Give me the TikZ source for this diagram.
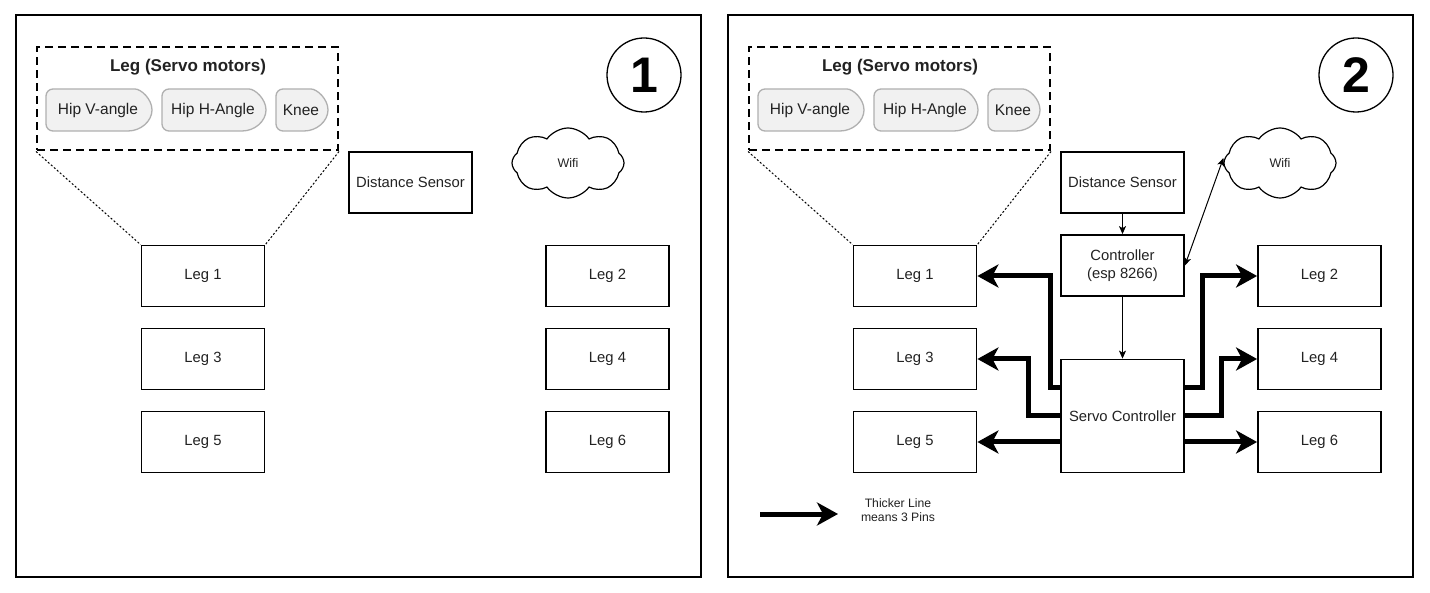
\documentclass[tikz,border=0pt]{standalone}
\usepackage{fontspec}
\setmainfont{Liberation Sans}
\usetikzlibrary{arrows.meta,shapes.symbols,calc}
\definecolor{txt}{HTML}{222222}
\definecolor{servofill}{HTML}{F1F1F1}
\definecolor{servoline}{HTML}{B0B0B0}
\newcommand\servoshape[6]{%
  \path[servo] ({#4-24},#5) [rounded corners=7pt] -- (#2,#5) -- (#2,#3) -- ({#4-24},#3) [sharp corners]
    .. controls ({#4-11},#3) and (#4,{(#3+#5)/2-11}) .. (#4,{(#3+#5)/2})
    .. controls (#4,{(#3+#5)/2+11}) and ({#4-11},#5) .. ({#4-24},#5) -- cycle;
  \node[servotext] (#1) at ({(#2+#4)/2-1},{(#3+#5)/2}) {#6};
}
\begin{document}
\begin{tikzpicture}[x=1pt,y=-1pt,
  panel/.style={draw, line width=1.6pt, minimum width=685pt, minimum height=562pt, inner sep=0pt},
  box/.style={draw, line width=1.8pt, minimum width=123pt, minimum height=61pt, inner sep=0pt,
    font=\fontsize{14.8}{18}\selectfont, text=txt, align=center},
  servo/.style={fill=servofill, draw=servoline, line width=1.3pt},
  servotext/.style={font=\fontsize{15.5}{18}\selectfont, text=txt, inner sep=0pt},
  groupbox/.style={draw, line width=2pt, dash pattern=on 8pt off 5pt, minimum width=301pt, minimum height=103pt, inner sep=0pt},
  zoomline/.style={line width=1pt, dash pattern=on 2pt off 2pt},
  cloudnode/.style={cloud, cloud puffs=8, cloud puff arc=110, aspect=1.6, draw, line width=1.2pt, minimum width=112pt,
    minimum height=70pt, inner sep=0pt, font=\fontsize{12.5}{14}\selectfont, text=txt},
  numcircle/.style={circle, draw, line width=1.3pt, minimum size=74pt, inner sep=0pt,
    font=\bfseries\fontsize{50}{50}\selectfont},
  pins/.style={line width=5pt, -{Stealth[length=21pt, width=23pt, inset=6pt]}},
  signal/.style={line width=1pt, -{Stealth[length=8pt, width=7pt, inset=2pt]}},
  bisignal/.style={line width=1pt, {Stealth[length=8pt, width=7pt, inset=2pt]}-{Stealth[length=8pt, width=7pt, inset=2pt]}},
  legend/.style={font=\fontsize{12.2}{14}\selectfont, text=txt, align=center, inner sep=0pt}
]
\useasboundingbox[fill=white] (0,0) rectangle (1430,593);

\foreach \o/\s/\n in {0/a/1,712/b/2}{
  \node[panel] (panel\s) at (358.5+\o,296) {};
  \node[groupbox] (grp\s) at (187.5+\o,99) {};
  \node[font=\bfseries\fontsize{17}{20}\selectfont, text=txt] (title\s) at (188+\o,67) {Leg (Servo motors)};
  \servoshape{hipv\s}{46+\o}{89}{152+\o}{131}{Hip V-angle}
  \servoshape{hiph\s}{162+\o}{89}{266+\o}{131}{Hip H-Angle}
  \servoshape{knee\s}{276+\o}{89}{328+\o}{131}{Knee}
  \node[numcircle] (num\s) at (644+\o,75) {\n};
  \node[cloudnode] (wifi\s) at (568+\o,163) {Wifi};
  \node[box] (ds\s) at (410.5+\o,182.5) {Distance Sensor};
  \node[box] (leg1\s) at (203+\o,276) {Leg 1};
  \node[box] (leg3\s) at (203+\o,359) {Leg 3};
  \node[box] (leg5\s) at (203+\o,442) {Leg 5};
  \node[box] (leg2\s) at (607.5+\o,276) {Leg 2};
  \node[box] (leg4\s) at (607.5+\o,359) {Leg 4};
  \node[box] (leg6\s) at (607.5+\o,442) {Leg 6};
  \draw[zoomline] (grp\s.south west) -- (leg1\s.north west);
  \draw[zoomline] (grp\s.south east) -- (leg1\s.north east);
}

% panel 2 extras
\node[box] (ctrl) at (1122.5,265.5) {Controller\\(esp 8266)};
\node[box, minimum height=113pt] (sc) at (1122.5,416) {Servo Controller};

\draw[signal] (dsb.south) -- (ctrl.north);
\draw[signal, line width=0.7pt] (ctrl.south) -- (sc.north);
\draw[bisignal] (ctrl.east) -- ([yshift=5pt]wifib.west);

\draw[pins] ([yshift=28pt]sc.west) -- ++(-10,0) |- (leg1b.east);
\draw[pins] (sc.west) -- ++(-32,0) |- (leg3b.east);
\draw[pins] (sc.west |- leg5b.east) -- (leg5b.east);
\draw[pins] ([yshift=28pt]sc.east) -- ++(18,0) |- (leg2b.west);
\draw[pins] (sc.east) -- ++(37,0) |- (leg4b.west);
\draw[pins] (sc.east |- leg6b.west) -- (leg6b.west);

\coordinate (la) at (760,514);
\coordinate (lb) at (838,514);
\draw[pins] (la) -- (lb);
\node[legend] (lt) at (898,510) {Thicker Line\\means 3 Pins};
\end{tikzpicture}
\end{document}
